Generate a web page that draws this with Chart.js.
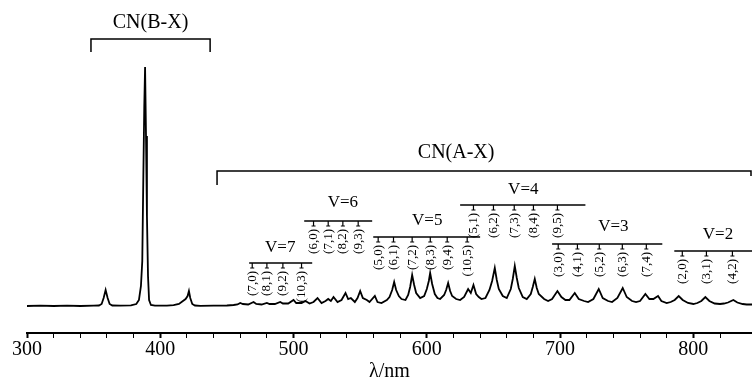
<!DOCTYPE html>
<html>
<head>
<meta charset="utf-8">
<script src="https://cdn.jsdelivr.net/npm/chart.js@4.4.1/dist/chart.umd.min.js"></script>
<style>
  html, body { margin: 0; padding: 0; background: #fff; }
  #wrap { width: 752px; height: 382px; }
</style>
</head>
<body>
<div id="wrap"><canvas id="chart"></canvas></div>
<script>
// emission spectrum, wavelength in nm and intensity (arbitrary units, baseline = 0)
const wavelengths = [
  300, 310, 320, 330, 340, 350, 354, 356, 357.5, 359, 360.5, 362, 364, 370,
  378, 382, 384, 385.5, 386.5, 387.3, 388, 388.6, 389.3, 390, 390.8, 391.6, 393, 396,
  405, 410, 414, 417, 419, 420.5, 421.5, 422.5, 424, 426, 430,
  440, 450, 455, 458, 460, 462, 466, 470, 472, 476, 480, 482, 486, 490, 492, 496,
  500, 502, 506, 509, 512, 515, 518, 521, 524, 526, 528, 530, 533, 536, 539, 541,
  543, 546, 548, 550, 552, 555, 557, 561, 563, 566,
  570, 572, 574, 575.5, 577, 579, 581, 584, 586, 587.5,
  589, 590.5, 592, 595, 598, 600, 601.5, 602.5, 604, 606,
  608, 610, 613, 614.5, 616, 617.5, 619, 622, 625, 628,
  631, 633, 635, 637, 639, 641, 644, 647, 649, 651,
  652.5, 654, 657, 660, 663, 664.5, 666, 667.5, 669, 672,
  675, 678, 679.5, 681, 682.5, 684, 688, 691, 694, 698,
  701, 704, 707, 711, 714, 718, 721, 725, 729, 732, 736, 739, 743, 747, 750, 754,
  757, 760, 764, 767, 770, 773.5, 776, 780, 783,
  786, 789, 792, 796, 800, 803, 806, 809, 812, 816, 820, 823, 826, 830, 833, 837,
  840, 844
];
const intensity = [
  0, 0.3, 0, 0.4, 0, 0.3, 0.5, 2, 8, 16, 8, 2, 0.5, 0.3,
  0.6, 2, 6, 20, 45, 130, 200, 239, 170, 90, 30, 6, 1, 0.3,
  0.3, 0.8, 2, 5, 7, 10, 15, 8, 2, 0.5, 0.2,
  0.3, 0.5, 1, 1.5, 3, 2, 1.5, 4, 2, 1.5, 3, 2, 2, 4, 2.5, 2.5,
  6, 3, 3, 5, 2.5, 4, 8, 3, 5, 7, 5, 9, 4, 6, 13, 7,
  8, 4, 8, 15, 8, 6, 4, 10, 4, 3,
  6, 9, 16, 24, 16, 10, 7, 6, 11, 19,
  31, 21, 13, 8, 10, 17, 25, 33, 22, 12,
  8, 7, 11, 16, 23, 15, 10, 7, 6, 9,
  17, 13, 21, 12, 9, 7, 8, 16, 25, 38,
  26, 17, 10, 8, 17, 27, 40, 28, 18, 9,
  7, 12, 19, 27, 18, 12, 7, 5, 7, 15,
  9, 6, 6, 13, 7, 5, 4, 7, 17, 8, 5, 4, 8, 18, 9, 5,
  4, 5, 12, 7, 7, 10, 5, 3, 4,
  6, 10, 6, 3, 2, 3, 5, 9, 5, 2.5, 2, 2.5, 3.5, 6, 3.5, 2,
  1.5, 1.5
];
const xTicksMajor = [300, 400, 500, 600, 700, 800];

// electronic systems: name, wavelength span
const systemNames = ['CN(B-X)', 'CN(A-X)'];
const systemSpans = [[348, 437.4], [442.6, 844]];
const systemTextAt = [392.7, 622];

// vibrational sequences
const groupNames = ['V=7', 'V=6', 'V=5', 'V=4', 'V=3', 'V=2'];
const groupSpans = [[466.7, 514], [508, 559], [559.8, 640], [625, 719], [694, 776.7], [785.7, 844]];
const groupTextAt = [490, 537, 600.3, 672.4, 740, 818.5];
const bandHeads = [
  [469, 480, 492, 506],
  [515, 526, 537, 548.5],
  [563.5, 575, 589, 602.6, 615.3, 630.3],
  [635, 650, 665.6, 680, 698],
  [698.6, 713, 729.4, 746.7, 764.7],
  [791.7, 809.8, 829.3]
];
const bandLabels = [
  ['(7,0)', '(8,1)', '(9,2)', '(10,3)'],
  ['(6,0)', '(7,1)', '(8,2)', '(9,3)'],
  ['(5,0)', '(6,1)', '(7,2)', '(8,3)', '(9,4)', '(10,5)'],
  ['(5,1)', '(6,2)', '(7,3)', '(8,4)', '(9,5)'],
  ['(3,0)', '(4,1)', '(5,2)', '(6,3)', '(7,4)'],
  ['(2,0)', '(3,1)', '(4,2)']
];

// vertical placement of the annotation layer (intensity units)
const systemLevels = [267, 135];
const systemDrops = [[13, 13], [14, 5]];
const systemTextLevels = [283, 153];
const groupLevels = [43, 85, 69, 101, 62, 55];
const groupTextLevels = [58, 103, 85, 116, 79, 71];

const serif = '"Liberation Serif", "DejaVu Serif", serif';

const bandsPlugin = {
  id: 'bands',
  afterDatasetsDraw(chart) {
    const { ctx, scales: { x, y } } = chart;
    ctx.save();
    ctx.strokeStyle = '#000';
    ctx.fillStyle = '#000';

    // brackets for the two systems
    systemNames.forEach((name, i) => {
      const x0 = x.getPixelForValue(systemSpans[i][0]);
      const x1 = Math.min(x.getPixelForValue(systemSpans[i][1]), chart.width - 1);
      const yl = y.getPixelForValue(systemLevels[i]);
      ctx.lineWidth = 1.5;
      ctx.beginPath();
      ctx.moveTo(x0, yl + systemDrops[i][0]);
      ctx.lineTo(x0, yl);
      ctx.lineTo(x1, yl);
      ctx.lineTo(x1, yl + systemDrops[i][1]);
      ctx.stroke();
      ctx.font = '20px ' + serif;
      ctx.textAlign = 'center';
      ctx.textBaseline = 'middle';
      ctx.fillText(name, x.getPixelForValue(systemTextAt[i]), y.getPixelForValue(systemTextLevels[i]));
    });

    // sequences with band heads
    groupNames.forEach((name, i) => {
      const x0 = x.getPixelForValue(groupSpans[i][0]);
      const x1 = Math.min(x.getPixelForValue(groupSpans[i][1]), chart.width);
      const yl = y.getPixelForValue(groupLevels[i]);
      ctx.lineWidth = 1.5;
      ctx.beginPath();
      ctx.moveTo(x0, yl);
      ctx.lineTo(x1, yl);
      ctx.stroke();

      ctx.font = '17px ' + serif;
      ctx.textAlign = 'center';
      ctx.textBaseline = 'middle';
      ctx.fillText(name, x.getPixelForValue(groupTextAt[i]), y.getPixelForValue(groupTextLevels[i]));

      bandHeads[i].forEach((wl, j) => {
        const bx = x.getPixelForValue(wl);
        ctx.lineWidth = 1.2;
        ctx.beginPath();
        ctx.moveTo(bx, yl);
        ctx.lineTo(bx, yl + 5);
        ctx.moveTo(bx - 2, yl + 5);
        ctx.lineTo(bx + 2, yl + 5);
        ctx.stroke();

        ctx.save();
        ctx.translate(bx, yl + 8);
        ctx.rotate(-Math.PI / 2);
        ctx.font = '13px ' + serif;
        ctx.textAlign = 'right';
        ctx.textBaseline = 'middle';
        ctx.fillText(bandLabels[i][j], 0, 0);
        ctx.restore();
      });
    });
    ctx.restore();
  }
};

const points = wavelengths.map((wl, i) => ({ x: wl, y: intensity[i] }));

new Chart(document.getElementById('chart'), {
  type: 'line',
  data: {
    datasets: [{
      data: points,
      borderColor: '#000',
      borderWidth: 1.8,
      pointRadius: 0,
      tension: 0,
      fill: false
    }]
  },
  options: {
    responsive: true,
    maintainAspectRatio: false,
    animation: false,
    layout: { padding: { left: 27, right: 0, top: 0, bottom: 0 } },
    plugins: { legend: { display: false }, tooltip: { enabled: false } },
    scales: {
      x: {
        type: 'linear',
        min: 300,
        max: 844,
        border: { display: true, color: '#000', width: 2 },
        grid: {
          drawOnChartArea: false,
          drawTicks: true,
          tickLength: 5,
          tickColor: c => (c.tick && c.tick.value % 20 === 0) ? '#000' : 'rgba(0,0,0,0)',
          tickWidth: c => (c.tick && xTicksMajor.includes(c.tick.value)) ? 2 : 1
        },
        ticks: {
          stepSize: 20,
          autoSkip: false,
          maxRotation: 0,
          padding: 0,
          color: '#000',
          font: { family: serif, size: 20, lineHeight: 1.2 },
          callback: v => xTicksMajor.includes(v) ? String(v) : ''
        },
        title: {
          display: true,
          text: 'λ/nm',
          color: '#000',
          padding: { top: 0, bottom: 0 },
          font: { family: serif, size: 20, lineHeight: 1 }
        }
      },
      y: {
        display: false,
        min: -27,
        max: 306
      }
    }
  },
  plugins: [bandsPlugin]
});
</script>
</body>
</html>
